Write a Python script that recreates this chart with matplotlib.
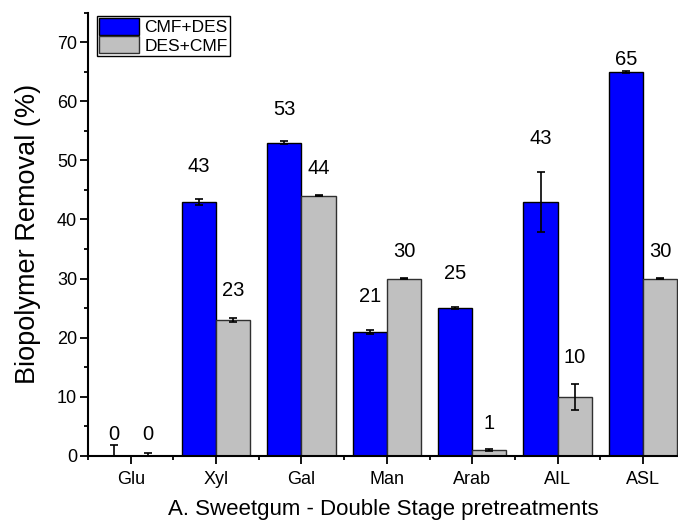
import matplotlib
matplotlib.use("Agg")
import matplotlib.pyplot as plt
from matplotlib.ticker import MultipleLocator, FixedLocator
import numpy as np

from matplotlib import rcParams
rcParams['font.family'] = 'sans-serif'
rcParams['font.sans-serif'] = ['Liberation Sans', 'DejaVu Sans']

# Biopolymer removal per component, two pretreatment orders
components = ["Glu", "Xyl", "Gal", "Man", "Arab", "AIL", "ASL"]
cmf_des = [0, 43, 53, 21, 25, 43, 65]
cmf_des_err = [1.9, 0.5, 0.2, 0.3, 0.15, 5.1, 0.15]
des_cmf = [0, 23, 44, 30, 1, 10, 30]
des_cmf_err = [0.5, 0.4, 0.1, 0.1, 0.1, 2.2, 0.1]

# how far above each bar top the value label sits (data units)
lab_off_cmf = [3.7, 5.9, 5.6, 6.0, 5.8, 10.7, 2.1]
lab_off_des = [3.7, 5.0, 4.7, 4.6, 4.5, 6.7, 4.6]

c_cmf = "#0000FF"
c_des = "#C0C0C0"
w = 0.4
fs_tick = 13
fs_val = 14.5

fig = plt.figure(figsize=(6.78, 5.21), dpi=100)
ax = fig.add_axes([0.1298, 0.1248, 0.8702, 0.8512])

x = np.arange(len(components))
ekw = dict(ecolor="black", elinewidth=1.2, capsize=3, capthick=1.2)
ax.bar(x - w/2, cmf_des, w, color=c_cmf, edgecolor="black", lw=1,
       yerr=cmf_des_err, error_kw=ekw, label="CMF+DES", zorder=2)
ax.bar(x + w/2, des_cmf, w, color=c_des, edgecolor="#303030", lw=1,
       yerr=des_cmf_err, error_kw=ekw, label="DES+CMF", zorder=2)

for i in range(len(components)):
    ax.text(x[i] - w/2, cmf_des[i] + lab_off_cmf[i], f"{cmf_des[i]}",
            ha="center", va="center", fontsize=fs_val)
    ax.text(x[i] + w/2, des_cmf[i] + lab_off_des[i], f"{des_cmf[i]}",
            ha="center", va="center", fontsize=fs_val)

### axes styling
ax.set_xlim(-0.5, 6.41)
ax.set_ylim(0, 75)
ax.set_xticks(x)
ax.set_xticklabels(components, fontsize=fs_tick)
ax.xaxis.set_minor_locator(FixedLocator(np.arange(-0.5, 6.5, 1)))
ax.yaxis.set_major_locator(MultipleLocator(10))
ax.yaxis.set_minor_locator(MultipleLocator(5))
ax.tick_params(axis="y", labelsize=fs_tick, pad=2)
ax.tick_params(which="major", direction="out", length=5.8, width=1.3)
ax.tick_params(which="minor", direction="out", length=2.6, width=1.3)
ax.tick_params(axis="x", which="major", pad=5)
for s in ["top", "right"]:
    ax.spines[s].set_visible(False)
for s in ["left", "bottom"]:
    ax.spines[s].set_linewidth(1.5)

ax.set_ylabel("Biopolymer Removal (%)", fontsize=19.5)
ax.yaxis.set_label_coords(-0.079, 0.5)
ax.set_xlabel("A. Sweetgum - Double Stage pretreatments", fontsize=16, labelpad=8)

leg = ax.legend(loc="upper left", bbox_to_anchor=(0.0148, 0.993), fontsize=12.5,
                handlelength=2.3, handleheight=1.1, handletextpad=0.3,
                labelspacing=0.05, borderpad=0.15, borderaxespad=0.0,
                fancybox=False, framealpha=1, edgecolor="black")
leg.get_frame().set_linewidth(1.0)

plt.savefig("out.png", dpi=100)
